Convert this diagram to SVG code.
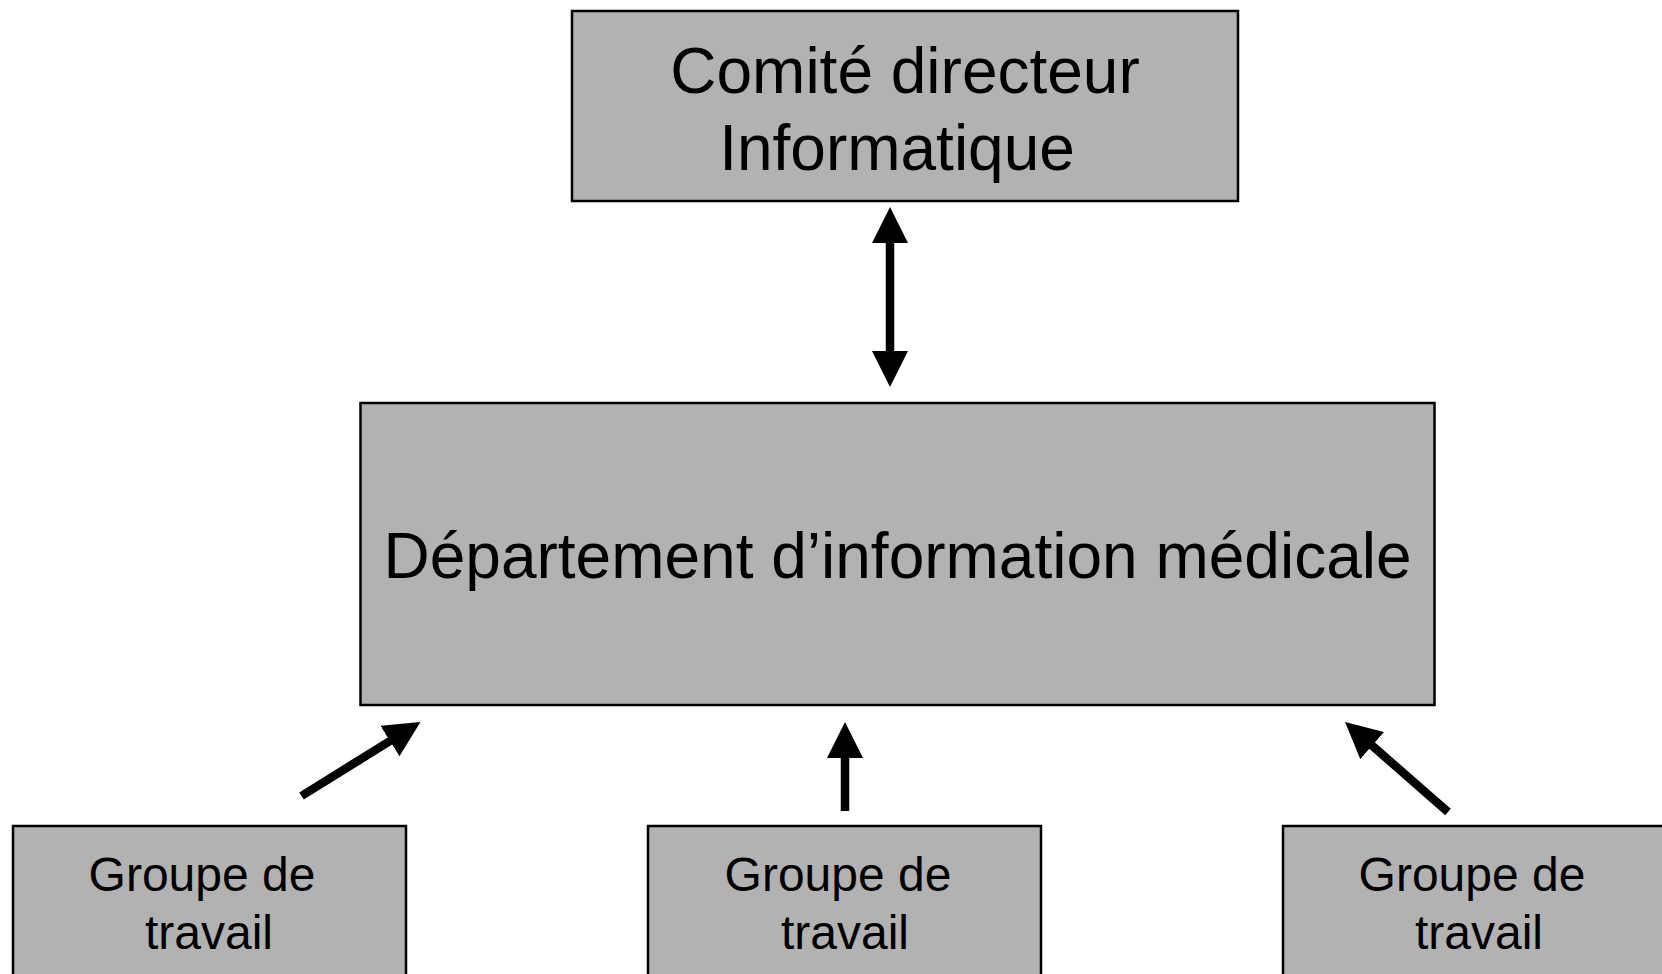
<svg xmlns="http://www.w3.org/2000/svg" width="1662" height="974" viewBox="0 0 1662 974">
<style>
.box{fill:#b2b2b2;stroke:#000;stroke-width:2.5}
.t{font-family:"Liberation Sans",Arial,sans-serif;fill:#000;text-anchor:middle}
.big{font-size:64px}
.sm{font-size:48px}
.con{stroke:#000;stroke-width:8.5;fill:none}
</style>
<defs>
<marker id="ah" markerUnits="userSpaceOnUse" markerWidth="36" markerHeight="36" refX="18" refY="18" orient="auto-start-reverse" viewBox="0 0 36 36">
<path d="M0,0 L36,18 L0,36 z" fill="#000"/>
</marker>
</defs>
<rect width="1662" height="974" fill="#fff"/>
<g id="comite">
<rect class="box" x="572" y="11" width="666" height="190"/>
<text class="t big" x="905" y="93">Comité directeur</text>
<text class="t big" x="897" y="170">Informatique</text>
</g>
<g id="dim">
<rect class="box" x="360.5" y="403" width="1074" height="302"/>
<text class="t big" x="897.5" y="578">Département d’information médicale</text>
</g>
<g id="groupe1">
<rect class="box" x="13" y="826" width="393" height="160"/>
<text class="t sm" x="202" y="891">Groupe de</text>
<text class="t sm" x="209" y="949">travail</text>
</g>
<g id="groupe2">
<rect class="box" x="648" y="826" width="393" height="160"/>
<text class="t sm" x="838" y="891">Groupe de</text>
<text class="t sm" x="845" y="949">travail</text>
</g>
<g id="groupe3">
<rect class="box" x="1283" y="826" width="393" height="160"/>
<text class="t sm" x="1472" y="891">Groupe de</text>
<text class="t sm" x="1479" y="949">travail</text>
</g>
<g id="connectors">
<line class="con" x1="890" y1="225" x2="890" y2="369" marker-start="url(#ah)" marker-end="url(#ah)"/>
<line class="con" x1="301.5" y1="796" x2="405.2" y2="731.5" marker-end="url(#ah)"/>
<line class="con" x1="845" y1="811" x2="845" y2="740" marker-end="url(#ah)"/>
<line class="con" x1="1448" y1="812" x2="1358.6" y2="733.8" marker-end="url(#ah)"/>
</g>
</svg>
